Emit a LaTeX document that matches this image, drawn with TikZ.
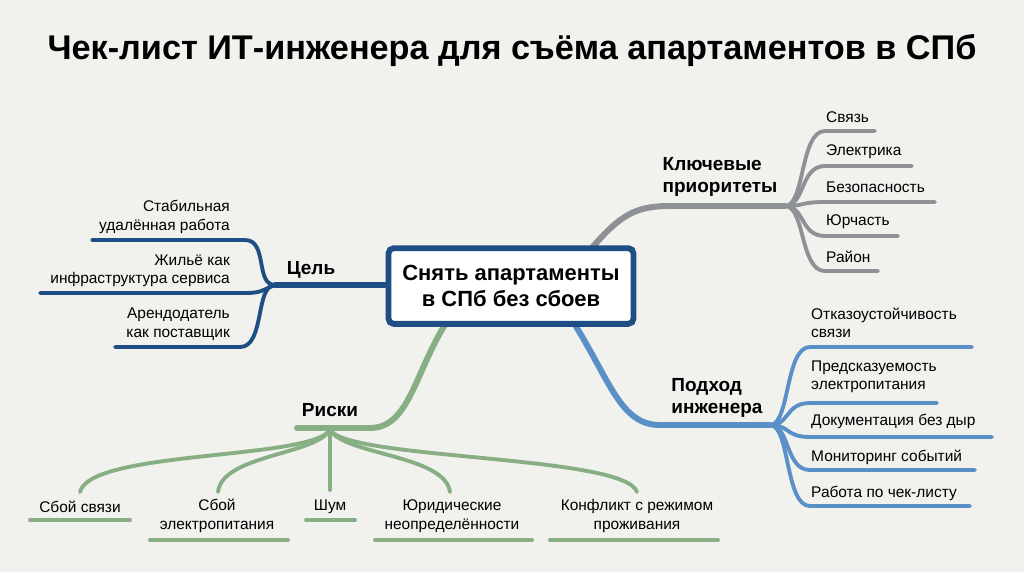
\documentclass[tikz,border=0pt]{standalone}
\usepackage{fontspec}
\setmainfont{Liberation Sans}
\definecolor{bgc}{HTML}{F1F1EE}
\definecolor{navy}{HTML}{1F4E85}
\definecolor{greyb}{HTML}{8E9195}
\definecolor{blueb}{HTML}{5B8FC7}
\definecolor{greenb}{HTML}{88AE84}
\tikzset{
  trunk/.style={line width=3.4pt,line cap=round},
  twig/.style={line width=2.2pt,line cap=round},
  branch/.style={font=\fontsize{10.8}{12.5}\selectfont\bfseries,align=left},
  leafl/.style={font=\fontsize{8.8}{10.5}\selectfont,anchor=west,align=left},
  leafr/.style={font=\fontsize{8.8}{10.5}\selectfont,anchor=east,align=right},
  leafc/.style={font=\fontsize{8.8}{10.5}\selectfont,align=center},
}
\begin{document}
\begin{tikzpicture}[x=0.02cm,y=-0.02cm]
\fill[bgc] (0,0) rectangle (1024,572);
\useasboundingbox (0,0) rectangle (1024,572);
\node[font=\fontsize{19.5}{22}\selectfont\bfseries] (title) at (512,50) {Чек-лист ИТ-инженера для съёма апартаментов в СПб};

% centre
\coordinate (cgoal) at (275,285);
\coordinate (cprio) at (785,206);
\coordinate (capp) at (770,425);
\coordinate (crisk) at (330,430);
\draw[navy,trunk] (385,285) -- (cgoal);
\draw[greyb,trunk] (590,250) .. controls (620,215) and (635,206) .. (670,206) -- (cprio);
\draw[blueb,trunk] (572,320) .. controls (610,380) and (620,425) .. (660,425) -- (capp);
\draw[greenb,trunk] (448,320) .. controls (415,370) and (410,428) .. (370,428) -- (297,428);
\node[draw=navy,line width=3.3pt,rounded corners=3pt,fill=white,minimum width=246pt*0.02/0.0352778,
  minimum height=76pt*0.02/0.0352778,align=center,font=\fontsize{12.5}{15}\selectfont\bfseries]
  (centre) at (511,286) {Снять апартаменты\\в СПб без сбоев};

% goal
\node[branch] (goal) at (311,270) {Цель};
\draw[navy,twig] (cgoal) .. controls (255,285) and (268,240) .. (245,240) -- (92,240);
\draw[navy,twig] (cgoal) .. controls (262,290) and (262,293) .. (245,293) -- (40,293);
\draw[navy,twig] (cgoal) .. controls (255,285) and (265,347) .. (240,347) -- (115,347);
\node[leafr] (g1) at (236,217) {Стабильная\\удалённая работа};
\node[leafr] (g2) at (236,271) {Жильё как\\инфраструктура сервиса};
\node[leafr] (g3) at (236,324) {Арендодатель\\как поставщик};

% priorities
\node[branch] (prio) at (720,177) {Ключевые\\приоритеты};
\foreach \y/\e in {131/875,166/912,202/935,236/898,271/878}
  \draw[greyb,twig] (cprio) .. controls (805,206) and (800,\y) .. (825,\y) -- (\e,\y);
\node[leafl] (p1) at (820,117) {Связь};
\node[leafl] (p2) at (820,152) {Электрика};
\node[leafl] (p3) at (820,187) {Безопасность};
\node[leafl] (p4) at (820,222) {Юрчасть};
\node[leafl] (p5) at (820,257) {Район};

% approach
\node[branch] (app) at (717,398) {Подход\\инженера};
\foreach \y/\e in {347/972,403/937,437/992,470/975,506/970}
  \draw[blueb,twig] (capp) .. controls (790,425) and (785,\y) .. (810,\y) -- (\e,\y);
\node[leafl] (a1) at (805,323) {Отказоустойчивость\\связи};
\node[leafl] (a2) at (805,377) {Предсказуемость\\электропитания};
\node[leafl] (a3) at (805,421) {Документация без дыр};
\node[leafl] (a4) at (805,457) {Мониторинг событий};
\node[leafl] (a5) at (805,493) {Работа по чек-листу};

% risks
\node[branch] (risk) at (330,410) {Риски};
\draw[greenb,twig] (crisk) .. controls (310,460) and (90,450) .. (80,492);
\draw[greenb,twig] (crisk) .. controls (315,455) and (222,455) .. (218,492);
\draw[greenb,twig] (crisk) -- (330,490);
\draw[greenb,twig] (crisk) .. controls (345,455) and (445,455) .. (450,492);
\draw[greenb,twig] (crisk) .. controls (350,460) and (625,455) .. (637,492);
\node[leafc] (r1) at (80,507) {Сбой связи};
\node[leafc] (r2) at (217,516) {Сбой\\электропитания};
\node[leafc] (r3) at (330,507) {Шум};
\node[leafc] (r4) at (452,516) {Юридические\\неопределённости};
\node[leafc] (r5) at (637,516) {Конфликт с режимом\\проживания};
\draw[greenb,twig] (30,520) -- (130,520);
\draw[greenb,twig] (150,540) -- (288,540);
\draw[greenb,twig] (306,520) -- (355,520);
\draw[greenb,twig] (375,540) -- (532,540);
\draw[greenb,twig] (550,540) -- (718,540);
\end{tikzpicture}
\end{document}
